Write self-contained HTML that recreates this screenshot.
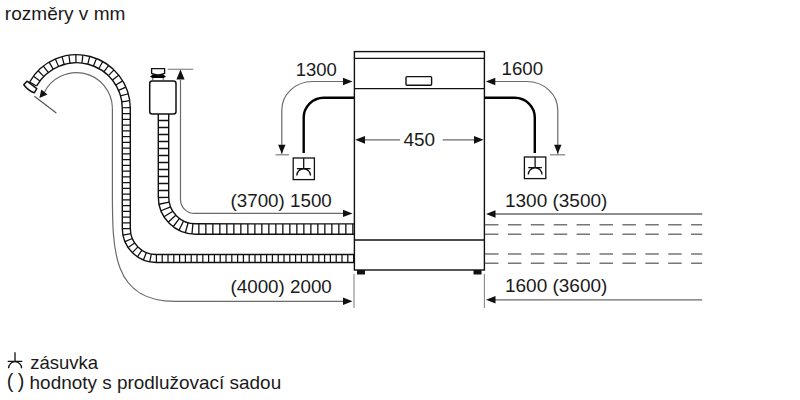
<!DOCTYPE html>
<html><head><meta charset="utf-8">
<style>
html,body{margin:0;padding:0;background:#fff;width:800px;height:400px;overflow:hidden}
svg{position:absolute;left:0;top:0;display:block}
text{font-family:"Liberation Sans",sans-serif;fill:#1a1a1a}
</style></head>
<body>
<svg width="800" height="400" viewBox="0 0 800 400">
<rect width="800" height="400" fill="#fff"/>
<!-- header -->
<text x="4.87" y="19.5" font-size="19.05">rozměry v mm</text>

<!-- dishwasher -->
<g fill="none" stroke="#111" stroke-width="1.4">
<rect x="354.4" y="51.6" width="130" height="218.4"/>
<line x1="354.4" y1="58.4" x2="484.4" y2="58.4"/>
<line x1="354.4" y1="88.6" x2="484.4" y2="88.6"/>
<line x1="354.4" y1="240" x2="484.4" y2="240"/>
<rect x="406" y="76.6" width="25.6" height="8.6" rx="1"/>
</g>
<rect x="357" y="270" width="8" height="4.5" fill="#111"/>
<rect x="473.5" y="270" width="8" height="4.5" fill="#111"/>

<!-- 450 -->
<g stroke="#6a6a6a" stroke-width="1.2" fill="none">
<line x1="362" y1="139.8" x2="400" y2="139.8"/>
<line x1="442.7" y1="139.8" x2="476" y2="139.8"/>
</g>
<path d="M355.2 139.8 L365 135.9 L365 143.7Z M483.5 139.8 L474 135.9 L474 143.7Z" fill="#111"/>
<text x="403.52" y="146.25" font-size="18.94">450</text>

<!-- left drain: 1300 -->
<path d="M281.8 154 L281.8 110 A30.7 28.5 0 0 1 312.5 81.5 L345 81.5" fill="none" stroke="#6a6a6a" stroke-width="1.2"/>
<path d="M352.5 81.5 L343 77.8 L343 85.2Z M281.8 153.8 L278.1 144.8 L285.5 144.8Z" fill="#111"/>
<line x1="275.6" y1="154.8" x2="289" y2="154.8" stroke="#888" stroke-width="1.3"/>
<text x="295.77" y="75.6" font-size="18.48">1300</text>
<path d="M354 97.8 L323.7 97.8 A20 20 0 0 0 303.7 117.8 L303.7 153" fill="none" stroke="#000" stroke-width="2.4"/>
<g fill="none" stroke="#111" stroke-width="1.3">
<rect x="293.2" y="158" width="21.2" height="21.6"/>
<path d="M303.7 158 L303.7 168.7 M296.9 168.7 L310.6 168.7 M296.8 175.6 A6.85 6.85 0 0 1 310.5 175.6"/>
</g>

<!-- right drain: 1600 -->
<path d="M557.8 154 L557.8 110 A31 28.5 0 0 0 526.8 81.5 L494 81.5" fill="none" stroke="#6a6a6a" stroke-width="1.2"/>
<path d="M485.8 81.5 L495.3 77.8 L495.3 85.2Z M557.8 153.8 L554.1 144.8 L561.5 144.8Z" fill="#111"/>
<line x1="550" y1="154.8" x2="565.2" y2="154.8" stroke="#888" stroke-width="1.3"/>
<text x="501.5" y="75" font-size="18.72">1600</text>
<path d="M484.4 97.8 L514.8 97.8 A20 20 0 0 1 534.8 117.8 L534.8 153" fill="none" stroke="#000" stroke-width="2.4"/>
<g fill="none" stroke="#111" stroke-width="1.3">
<rect x="524.4" y="157" width="21.4" height="21.6"/>
<path d="M535.1 157 L535.1 167.7 M528.2 167.7 L541.9 167.7 M528.3 174.6 A6.85 6.85 0 0 1 542 174.6"/>
</g>

<!-- left hoses -->
<path d="M36.64 85.95 A45.8 45.8 0 0 1 122.3 108.5 L122.3 228.5 A34 34 0 0 0 156.3 262.5 L354 262.5 M29.67 82.01 A53.8 53.8 0 0 1 130.3 108.5 L130.3 228.5 A26 26 0 0 0 156.3 254.5 L354 254.5" fill="none" stroke="#111" stroke-width="1.4"/>
<path d="M36.64 85.95 L29.67 82.01 M39.91 80.95 L33.52 76.14 M43.81 76.42 L38.1 70.82 M48.26 72.44 L43.33 66.14 M53.2 69.07 L49.12 62.19 M58.52 66.37 L55.39 59.02 M64.16 64.39 L62.01 56.69 M70.01 63.16 L68.87 55.24 M75.96 62.7 L75.87 54.7 M81.93 63.02 L82.88 55.08 M87.8 64.12 L89.77 56.36 M93.48 65.96 L96.45 58.53 M98.87 68.54 L102.78 61.56 M103.88 71.79 L108.67 65.37 M108.43 75.66 L114.01 69.93 M112.43 80.1 L118.71 75.14 M115.82 85.02 L122.69 80.91 M118.54 90.33 L125.89 87.16 M120.55 95.96 L128.24 93.77 M121.81 101.8 L129.72 100.63 M122.29 107.75 L130.29 107.62 M122.3 113.53 L130.3 113.53 M122.3 119.28 L130.3 119.28 M122.3 125.03 L130.3 125.03 M122.3 130.78 L130.3 130.78 M122.3 136.53 L130.3 136.53 M122.3 142.28 L130.3 142.28 M122.3 148.03 L130.3 148.03 M122.3 153.78 L130.3 153.78 M122.3 159.53 L130.3 159.53 M122.3 165.28 L130.3 165.28 M122.3 171.03 L130.3 171.03 M122.3 176.78 L130.3 176.78 M122.3 182.53 L130.3 182.53 M122.3 188.28 L130.3 188.28 M122.3 194.03 L130.3 194.03 M122.3 199.78 L130.3 199.78 M122.3 205.53 L130.3 205.53 M122.3 211.28 L130.3 211.28 M122.3 217.03 L130.3 217.03 M122.3 222.78 L130.3 222.78 M122.3 228.54 L130.3 228.53 M122.96 235.18 L130.81 233.61 M124.91 241.57 L132.3 238.49 M128.07 247.45 L134.71 242.99 M132.32 252.6 L137.96 246.93 M137.49 256.82 L141.91 250.16 M143.38 259.95 L146.42 252.55 M149.78 261.87 L151.31 254.02 M156.41 262.5 L156.41 254.5 M162.21 262.5 L162.21 254.5 M168.01 262.5 L168.01 254.5 M173.81 262.5 L173.81 254.5 M179.61 262.5 L179.61 254.5 M185.41 262.5 L185.41 254.5 M191.21 262.5 L191.21 254.5 M197.01 262.5 L197.01 254.5 M202.81 262.5 L202.81 254.5 M208.61 262.5 L208.61 254.5 M214.41 262.5 L214.41 254.5 M220.21 262.5 L220.21 254.5 M226.01 262.5 L226.01 254.5 M231.81 262.5 L231.81 254.5 M237.61 262.5 L237.61 254.5 M243.41 262.5 L243.41 254.5 M249.21 262.5 L249.21 254.5 M255.01 262.5 L255.01 254.5 M260.81 262.5 L260.81 254.5 M266.61 262.5 L266.61 254.5 M272.41 262.5 L272.41 254.5 M278.21 262.5 L278.21 254.5 M284.01 262.5 L284.01 254.5 M289.81 262.5 L289.81 254.5 M295.61 262.5 L295.61 254.5 M301.41 262.5 L301.41 254.5 M307.21 262.5 L307.21 254.5 M313.01 262.5 L313.01 254.5 M318.81 262.5 L318.81 254.5 M324.61 262.5 L324.61 254.5 M330.41 262.5 L330.41 254.5 M336.21 262.5 L336.21 254.5 M342.01 262.5 L342.01 254.5 M347.81 262.5 L347.81 254.5 M353.61 262.5 L353.61 254.5" fill="none" stroke="#111" stroke-width="1.25"/>
<path d="M158.3 114 L158.3 197 A37.2 37.2 0 0 0 195.5 234.2 L354 234.3 M168.7 114 L168.7 197 A26.8 26.8 0 0 0 195.5 223.8 L354 223.9" fill="none" stroke="#111" stroke-width="1.4"/>
<path d="M158.3 120.5 L168.7 120.5 M158.3 127.5 L168.7 127.5 M158.3 134.5 L168.7 134.5 M158.3 141.5 L168.7 141.5 M158.3 148.5 L168.7 148.5 M158.3 155.5 L168.7 155.5 M158.3 162.5 L168.7 162.5 M158.3 169.5 L168.7 169.5 M158.3 176.5 L168.7 176.5 M158.3 183.5 L168.7 183.5 M158.3 190.5 L168.7 190.5 M158.3 197.49 L168.7 197.35 M159.01 204.24 L169.21 202.22 M160.94 210.75 L170.6 206.91 M164.01 216.81 L172.81 211.27 M168.14 222.2 L175.79 215.16 M173.17 226.76 L179.42 218.44 M178.96 230.32 L183.58 221 M185.29 232.77 L188.14 222.77 M191.96 234.03 L192.95 223.68 M198.85 234.3 L198.85 223.9 M205.85 234.3 L205.85 223.9 M212.85 234.3 L212.85 223.9 M219.85 234.3 L219.85 223.9 M226.85 234.3 L226.85 223.9 M233.85 234.3 L233.85 223.9 M240.85 234.3 L240.85 223.9 M247.85 234.3 L247.85 223.9 M254.85 234.3 L254.85 223.9 M261.85 234.3 L261.85 223.9 M268.85 234.3 L268.85 223.9 M275.85 234.3 L275.85 223.9 M282.85 234.3 L282.85 223.9 M289.85 234.3 L289.85 223.9 M296.85 234.3 L296.85 223.9 M303.85 234.3 L303.85 223.9 M310.85 234.3 L310.85 223.9 M317.85 234.3 L317.85 223.9 M324.85 234.3 L324.85 223.9 M331.85 234.3 L331.85 223.9 M338.85 234.3 L338.85 223.9 M345.85 234.3 L345.85 223.9 M352.85 234.3 L352.85 223.9" fill="none" stroke="#111" stroke-width="1.3"/>

<!-- hose end fitting -->
<path d="M23.8 84.8 L27 81.2 L36.8 88.6 L34.2 92.8 Q28 90.6 23.8 84.8 Z" fill="#fff" stroke="#111" stroke-width="1.5" stroke-linejoin="round"/>
<!-- valve -->
<rect x="149.7" y="81" width="26.3" height="33" rx="2.5" fill="#fff" stroke="#111" stroke-width="1.5"/>
<path d="M151.6 68.6 L164.6 68.6 L164.6 73.4 Q158 76.3 151.6 73.4 Z" fill="#fff" stroke="#111" stroke-width="1.3"/>
<path d="M150 76.8 L152.6 74.6 Q158 76 163.4 74.6 L166 76.8 L163.4 78.1 L152.6 78.1 Z" fill="#000"/>
<path d="M152.8 78 L152.8 80.6 M163.2 78 L163.2 80.6" stroke="#555" stroke-width="1"/>

<!-- left dims -->
<g fill="none" stroke="#6a6a6a" stroke-width="1.2">
<path d="M180.5 80 L180.5 199.4 A14 14 0 0 0 194.5 213.4 L344 213.4"/>
<path d="M112.4 107.5 L112.4 190 C112.4 250 112 301.3 175 301.3 L344 301.3"/>
<path d="M44 93 A36 36 0 0 1 112.4 107.5" />
</g>
<line x1="167.7" y1="69.3" x2="193.2" y2="69.3" stroke="#888" stroke-width="1.2"/>
<line x1="34.4" y1="96.2" x2="56.3" y2="113.1" stroke="#555" stroke-width="1.2"/>
<line x1="354" y1="274" x2="354" y2="308" stroke="#888" stroke-width="1.1"/>
<path d="M180.5 69.5 L176.4 79.5 L184.6 79.5Z M352.5 213.4 L343 209.7 L343 217.1Z M352.5 301.3 L343 297.6 L343 305Z M39.4 98.1 L41.25 89.4 L47.5 94.4Z" fill="#111"/>
<text x="230.57" y="207.2" font-size="18.77">(3700) 1500</text>
<text x="230.57" y="293.2" font-size="18.77">(4000) 2000</text>

<!-- right dims -->
<g fill="none" stroke="#6a6a6a" stroke-width="1.3">
<line x1="494" y1="214" x2="702.2" y2="214"/>
<line x1="494" y1="299.8" x2="702.2" y2="299.8"/>
</g>
<g fill="none" stroke="#777" stroke-width="1.5" stroke-dasharray="13.5 9.4">
<line x1="485" y1="224.8" x2="702.2" y2="224.8"/>
<line x1="485" y1="234.3" x2="702.2" y2="234.3"/>
<line x1="485" y1="254.1" x2="702.2" y2="254.1"/>
<line x1="485" y1="263.3" x2="702.2" y2="263.3"/>
</g>
<line x1="484.4" y1="274" x2="484.4" y2="308" stroke="#888" stroke-width="1.1"/>
<path d="M486 214 L495.5 210.3 L495.5 217.7Z M486 299.8 L495.5 296.1 L495.5 303.5Z" fill="#111"/>
<text x="504.98" y="207.2" font-size="18.99">1300 (3500)</text>
<text x="504.98" y="292.2" font-size="18.99">1600 (3600)</text>

<!-- legend -->
<g fill="none" stroke="#111" stroke-width="1.3">
<path d="M15 352.2 L15 361.3 M7.7 361.3 L22.3 361.3 M8.6 368.2 A6.5 6.5 0 0 1 21.6 368.2"/>
</g>
<text x="30.16" y="368.5" font-size="18.54">zásuvka</text>
<text x="6.8" y="387.8" font-size="19.8">(</text><text x="17.8" y="387.8" font-size="19.8">)</text><text x="29.57" y="389" font-size="18.94">hodnoty s prodlužovací sadou</text>
</svg>
</body></html>
